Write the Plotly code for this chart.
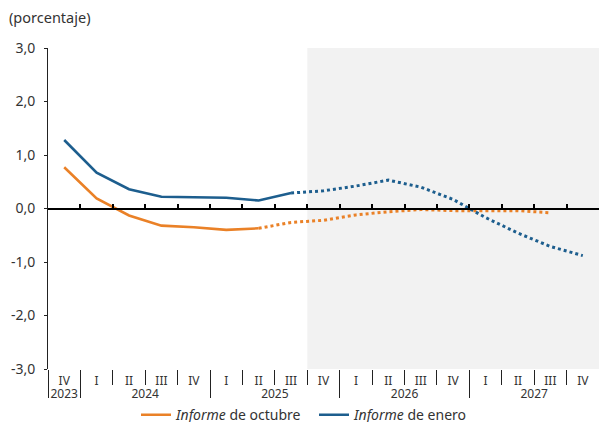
import plotly.graph_objects as go

# ---- data ----
years = ["2023", "2024", "2024", "2024", "2024", "2025", "2025", "2025", "2025",
         "2026", "2026", "2026", "2026", "2027", "2027", "2027", "2027"]
quarters = ["IV", "I", "II", "III", "IV", "I", "II", "III", "IV",
            "I", "II", "III", "IV", "I", "II", "III", "IV"]
enero = [1.28, 0.67, 0.36, 0.22, 0.21, 0.20, 0.15, 0.29, 0.33, 0.42, 0.53,
         0.40, 0.17, -0.17, -0.46, -0.71, -0.88]
octubre = [0.77, 0.19, -0.13, -0.32, -0.35, -0.40, -0.37, -0.26, -0.22, -0.12,
           -0.06, -0.02, -0.04, -0.04, -0.04, -0.08]
octubre_last_obs = 6   # last observed quarter (2025 II)
enero_last_obs = 7     # 2025 III
forecast_start = 8     # 2025 IV onwards shaded
ytick_vals = [-3, -2, -1, 0, 1, 2, 3]
ytick_text = ["-3,0", "-2,0", "-1,0", "0,0", "1,0", "2,0", "3,0"]

ORANGE = "#ea8127"
BLUE = "#1d5e8e"
FONT = "Noto Sans"
TXT = "#333333"
AX = "#222222"

n = len(quarters)
xpos = list(range(n))
q_bounds = [i + 0.5 for i in range(n - 1)]
year_order = list(dict.fromkeys(years))
year_centers, year_bounds = [], [-0.5]
for yv in year_order:
    idx = [i for i, v in enumerate(years) if v == yv]
    year_centers.append((idx[0] + idx[-1]) / 2)
    year_bounds.append(idx[-1] + 0.5)

fig = go.Figure()

fig.add_trace(go.Scatter(x=xpos[:octubre_last_obs + 1], y=octubre[:octubre_last_obs + 1],
                         mode="lines", name="<i>Informe</i> de octubre",
                         line=dict(color=ORANGE, width=2.6)))
fig.add_trace(go.Scatter(x=xpos[octubre_last_obs:len(octubre)], y=octubre[octubre_last_obs:],
                         mode="lines", showlegend=False,
                         line=dict(color=ORANGE, width=3, dash="dot")))
fig.add_trace(go.Scatter(x=xpos[:enero_last_obs + 1], y=enero[:enero_last_obs + 1],
                         mode="lines", name="<i>Informe</i> de enero",
                         line=dict(color=BLUE, width=2.6)))
fig.add_trace(go.Scatter(x=xpos[enero_last_obs:], y=enero[enero_last_obs:],
                         mode="lines", showlegend=False,
                         line=dict(color=BLUE, width=3, dash="dot")))

# helper traces so the extra axes are drawn
fig.add_trace(go.Scatter(x=[], y=[], xaxis="x2", showlegend=False, hoverinfo="skip"))
fig.add_trace(go.Scatter(x=[], y=[], xaxis="x3", showlegend=False, hoverinfo="skip"))

fig.add_shape(type="rect", xref="x", yref="y",
              x0=forecast_start - 0.5, x1=n - 0.5, y0=-3, y1=3,
              fillcolor="#f2f2f2", line=dict(width=0), layer="below")

xr = [-0.5, n - 0.5]
fig.update_layout(
    width=599, height=422,
    margin=dict(l=48, r=0, t=48, b=53, autoexpand=False),
    paper_bgcolor="white", plot_bgcolor="white",
    font=dict(family=FONT, size=13, color=TXT),
    showlegend=True,
    legend=dict(orientation="h", x=(136 - 48) / 551, xanchor="left",
                y=-0.094, yanchor="top", entrywidth=133, entrywidthmode="pixels",
                font=dict(size=14, color=TXT), itemwidth=30),
    # quarter labels + quarter separators
    xaxis=dict(range=xr, showline=False, showgrid=False, zeroline=False,
               tickvals=xpos, ticktext=quarters, ticks="",
               tickfont=dict(size=12, color=TXT), ticklabelstandoff=3,
               minor=dict(tickvals=q_bounds, ticks="outside", ticklen=15,
                          tickcolor=AX, tickwidth=1),
               automargin=False),
    # zero line with small upward ticks
    xaxis2=dict(overlaying="x", anchor="free", position=0.5, range=xr,
                showline=True, linecolor="#000", linewidth=1.5,
                ticks="inside", ticklen=4, tickcolor="#000", tickwidth=1.5,
                tickvals=q_bounds, showticklabels=False,
                showgrid=False, zeroline=False, automargin=False),
    # year labels + year separators
    xaxis3=dict(overlaying="x", anchor="y", side="bottom", range=xr,
                showline=False, showgrid=False, zeroline=False,
                tickvals=year_centers, ticktext=year_order, ticks="",
                tickfont=dict(size=12, color=TXT), ticklabelstandoff=16,
                minor=dict(tickvals=year_bounds, ticks="outside", ticklen=28,
                           tickcolor=AX, tickwidth=1),
                automargin=False),
    yaxis=dict(range=[-3, 3], tickvals=ytick_vals, ticktext=ytick_text,
               showline=True, linecolor=AX, linewidth=1,
               ticks="outside", ticklen=3, tickcolor=AX,
               showgrid=False, zeroline=False, ticklabelstandoff=6,
               tickfont=dict(size=14, color=TXT), automargin=False),
    annotations=[dict(text="(porcentaje)", xref="paper", yref="paper",
                      x=(7 - 48) / 551, y=(369 - 17) / 321,
                      xanchor="left", yanchor="middle",
                      showarrow=False, font=dict(size=14.5, color=TXT))],
)

fig.write_html("out.html", config={"displayModeBar": False},
               post_script="document.body.style.margin='0';document.body.style.overflow='hidden';")
